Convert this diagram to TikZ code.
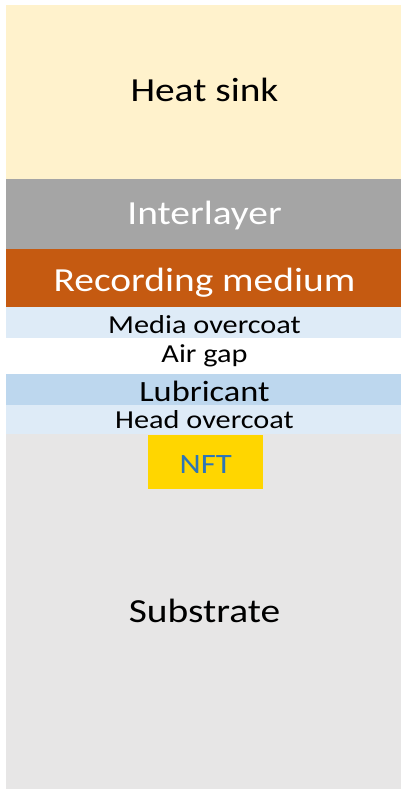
\documentclass[tikz,border=0pt]{standalone}
\usepackage{fontspec}
\setmainfont[FakeStretch=1.17]{Carlito}
\definecolor{sinkfill}{HTML}{FFF2CC}
\definecolor{interfill}{HTML}{A5A5A5}
\definecolor{mediumfill}{HTML}{C55A11}
\definecolor{overcoatfill}{HTML}{DEEBF7}
\definecolor{lubefill}{HTML}{BDD7EE}
\definecolor{substratefill}{HTML}{E7E6E6}
\definecolor{nftfill}{HTML}{FFD600}
\definecolor{nfttext}{HTML}{2E75B6}
\begin{document}
\begin{tikzpicture}[x=1pt, y=-1pt,
    layer/.style={anchor=north west, inner sep=0pt, minimum width=395pt},
    biglabel/.style={anchor=base, inner sep=0pt, font=\fontsize{33.7}{36}\selectfont},
    smalllabel/.style={anchor=base, inner sep=0pt, font=\fontsize{25.9}{28}\selectfont}]
    \useasboundingbox (0,0) rectangle (401,789);

    % Layers of the stack, top to bottom
    \node[layer, fill=sinkfill, minimum height=174pt] (sink) at (6,5) {};
    \node[layer, fill=interfill, minimum height=70pt] (inter) at (6,179) {};
    \node[layer, fill=mediumfill, minimum height=58pt] (medium) at (6,249) {};
    \node[layer, fill=overcoatfill, minimum height=31pt] (mediaoc) at (6,307) {};
    \node[layer, fill=lubefill, minimum height=31pt] (lube) at (6,374) {};
    \node[layer, fill=overcoatfill, minimum height=29pt] (headoc) at (6,405) {};
    \node[layer, fill=substratefill, minimum height=355pt] (substrate) at (6,434) {};

    % Near-field transducer
    \node[anchor=north west, inner sep=0pt, fill=nftfill,
        minimum width=115pt, minimum height=54pt] (nft) at (148,435) {};

    % Labels, placed on their baselines
    \node[biglabel] (sinktxt) at (204.5,102) {Heat sink};
    \node[biglabel, text=white] (intertxt) at (204.5,224.5) {Interlayer};
    \node[biglabel, text=white] (mediumtxt) at (204.5,291) {Recording medium};
    \node[smalllabel] (mediaoctxt) at (204.5,333) {Media overcoat};
    \node[smalllabel] (gaptxt) at (204.5,362) {Air gap};
    \node[anchor=base, inner sep=0pt, font=\fontsize{29.4}{32}\selectfont] (lubetxt) at (204.5,401) {Lubricant};
    \node[smalllabel] (headoctxt) at (204.5,428) {Head overcoat};
    \node[anchor=base, inner sep=0pt, text=nfttext, font=\fontsize{28}{30}\selectfont] (nfttxt) at (nft.center |- 0,473) {NFT};
    \node[biglabel] (substratetxt) at (204.5,622) {Substrate};
\end{tikzpicture}
\end{document}
